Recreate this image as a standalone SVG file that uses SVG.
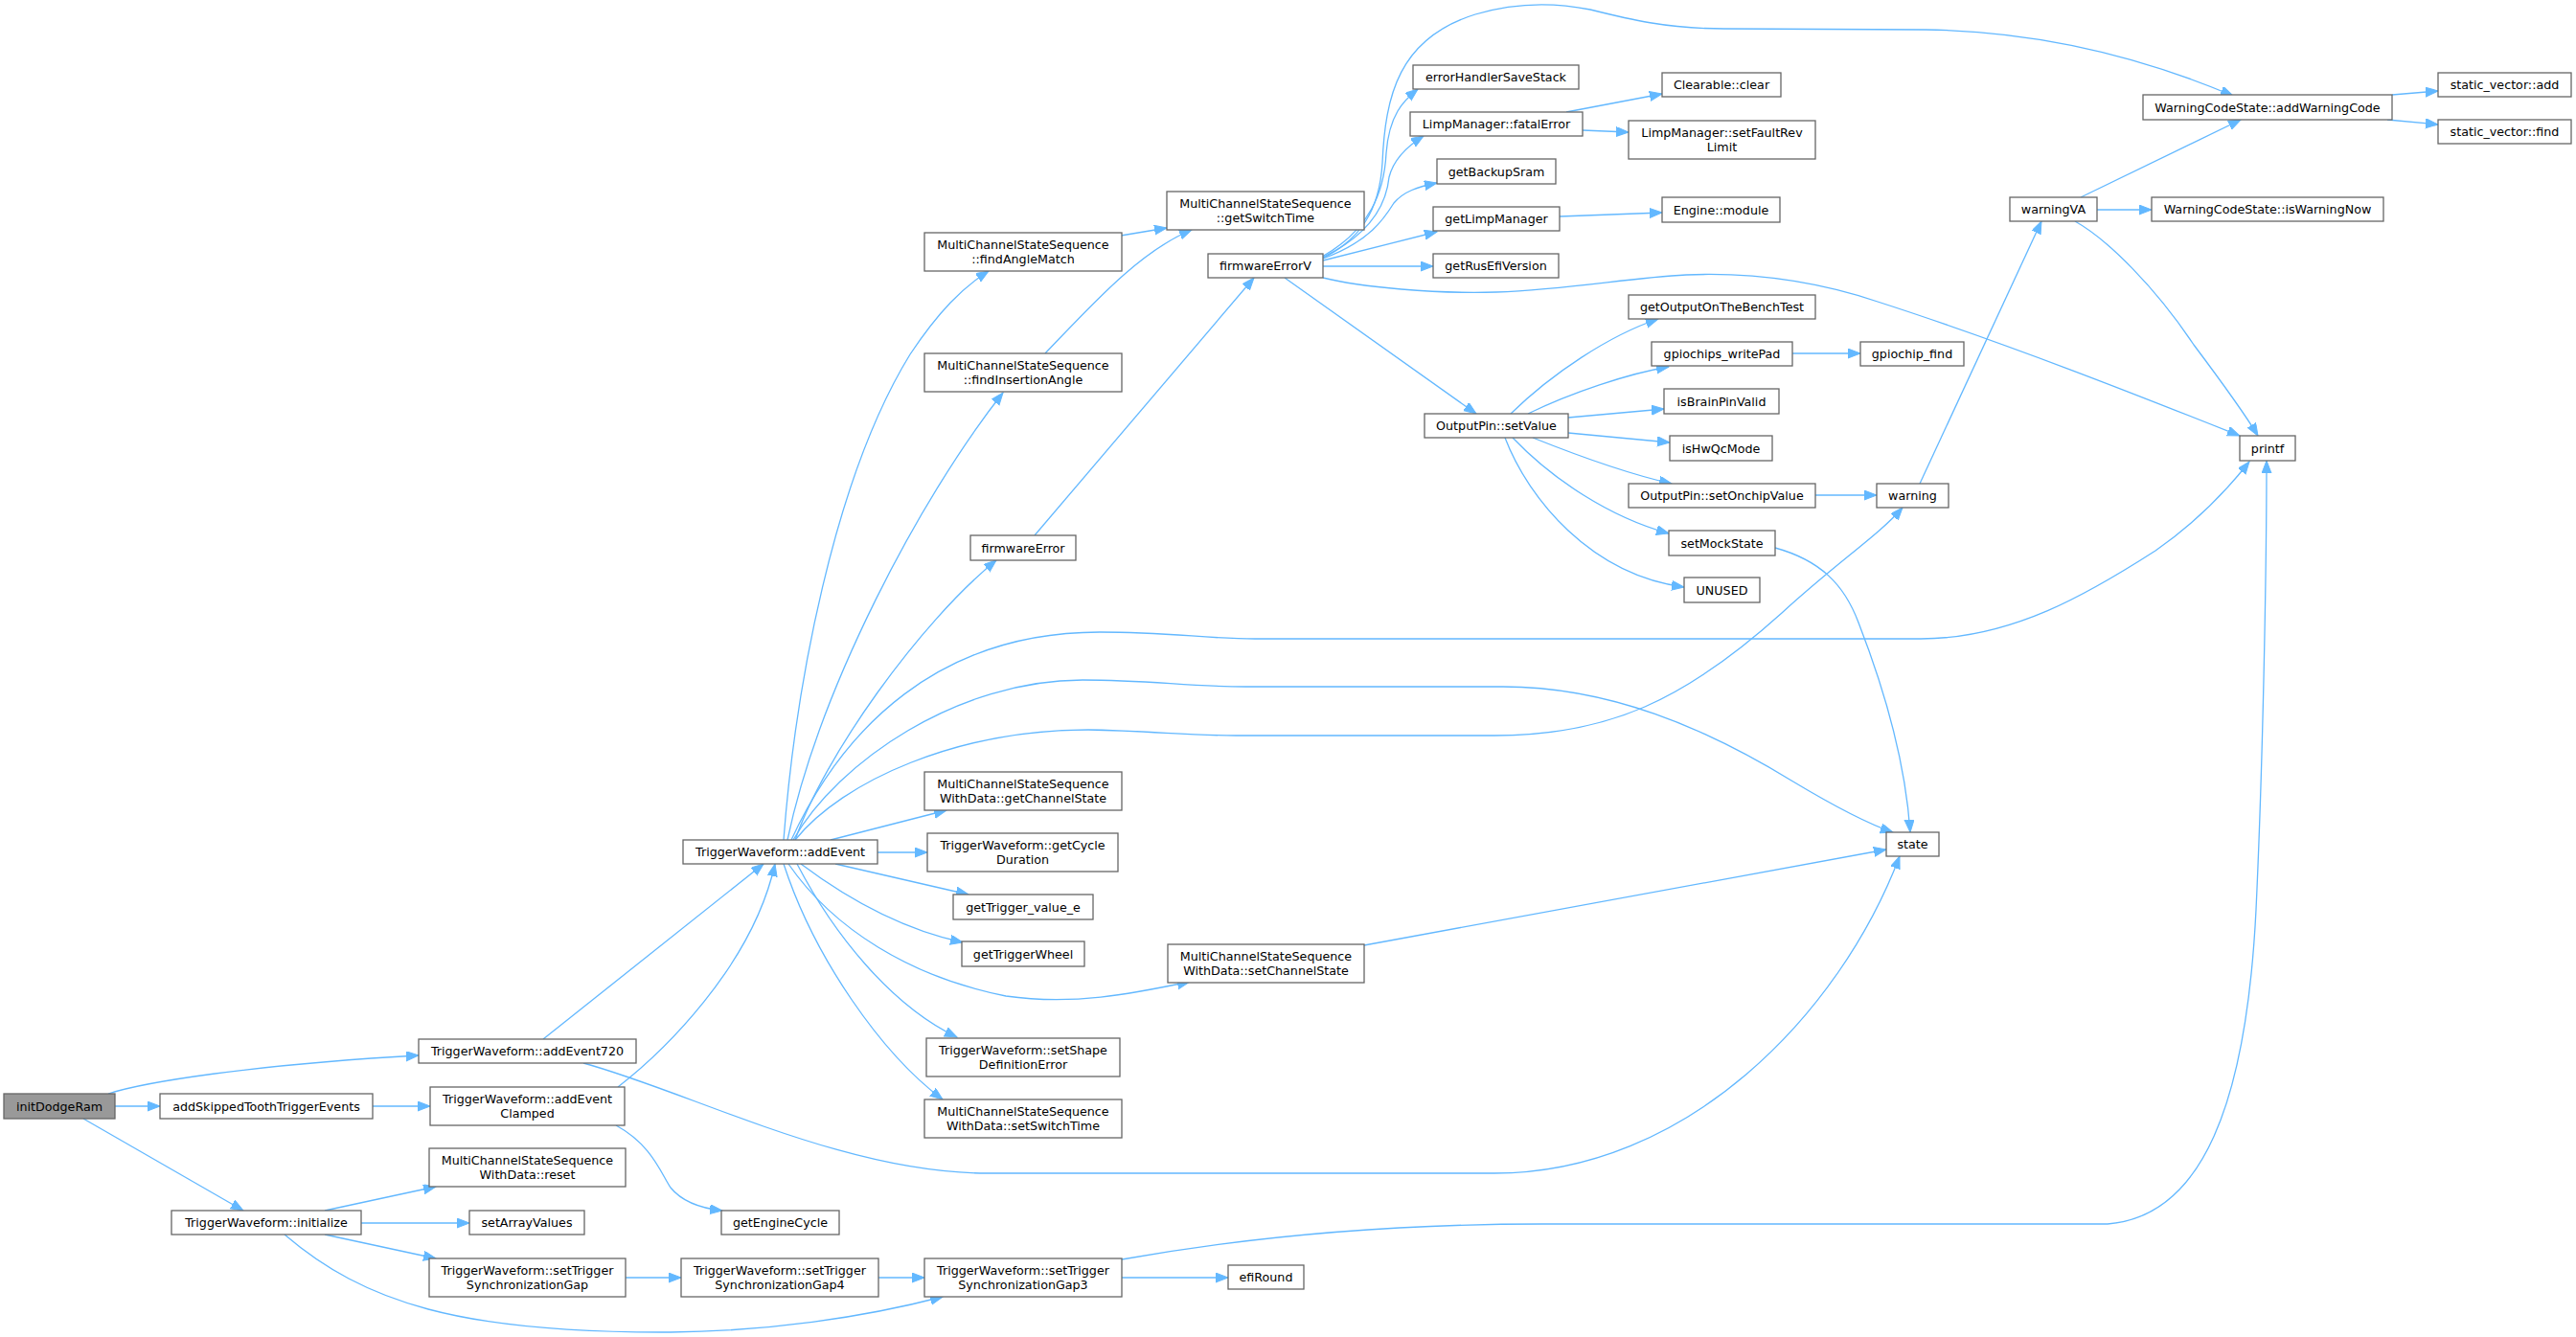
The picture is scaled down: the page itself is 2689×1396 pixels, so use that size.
<svg xmlns="http://www.w3.org/2000/svg" width="2689" height="1396" viewBox="0 0 2689 1396">
<style>
.n rect{fill:#ffffff;stroke:#666666;stroke-width:1.3}
.n.root rect{fill:#999999}
.n text{font-family:"DejaVu Sans","Noto Sans",sans-serif;font-size:12.7px;fill:#000000;text-anchor:middle}
.e path{fill:none;stroke:#63b8ff;stroke-width:1.3;marker-end:url(#ah)}
</style>
<defs>
<marker id="ah" markerUnits="userSpaceOnUse" markerWidth="14" markerHeight="11" refX="13" refY="5" orient="auto">
<path d="M0,0 L13,5 L0,10 z" fill="#63b8ff" stroke="#63b8ff" stroke-width="1"/>
</marker>
</defs>
<rect x="0" y="0" width="2689" height="1396" fill="#ffffff"/>
<g id="edges" class="e">
<path d="M113,1142 C150,1130 260,1112 437,1102"/>
<path d="M120,1155 L167,1155"/>
<path d="M87,1168 L254,1264"/>
<path d="M389,1155 L449,1155"/>
<path d="M567,1085 L797,902"/>
<path d="M645,1135 C690,1100 785,1010 809,902"/>
<path d="M609,1110 C720,1140 880,1225 1030,1225 L1560,1225 C1760,1225 1920,1060 1983,894"/>
<path d="M339,1264 L455,1239"/>
<path d="M377,1277 L490,1277"/>
<path d="M339,1289 L455,1314"/>
<path d="M297,1289 C380,1360 480,1392 700,1391 C800,1390 900,1376 984,1354"/>
<path d="M653,1334 L711,1334"/>
<path d="M643,1175 C680,1195 690,1225 700,1240 C713,1256 735,1262 754,1264"/>
<path d="M917,1334 L965,1334"/>
<path d="M1171,1334 L1282,1334"/>
<path d="M1171,1315 C1300,1292 1450,1278 1610,1278 L2200,1278 C2300,1270 2345,1150 2355,950 C2362,800 2366,600 2366,481"/>
<path d="M832,902 C870,975 930,1050 999,1083"/>
<path d="M818,902 C850,1000 920,1100 984,1148"/>
<path d="M867,877 L988,846"/>
<path d="M916,890 L968,890"/>
<path d="M872,902 L1011,934"/>
<path d="M836,902 C880,935 940,970 1005,984"/>
<path d="M823,902 C870,970 950,1020 1050,1040 C1120,1050 1180,1038 1242,1025"/>
<path d="M818,877 C830,720 870,500 950,370 C980,325 1005,300 1032,283"/>
<path d="M822,877 C855,720 960,520 1047,410"/>
<path d="M830,877 C860,790 960,650 1040,585"/>
<path d="M826,877 C880,760 980,660 1148,660 C1220,660 1260,667 1310,667 L2005,667 C2100,667 2180,620 2250,575 C2300,540 2330,505 2348,482"/>
<path d="M828,877 C875,795 1000,710 1130,710 C1200,710 1240,717 1300,717 L1569,717 C1680,717 1780,760 1870,815 C1920,845 1955,862 1976,869"/>
<path d="M830,877 C880,815 1000,762 1136,762 C1200,763 1240,768 1290,768 L1560,768 C1680,768 1760,730 1860,640 C1920,585 1960,560 1986,530"/>
<path d="M1080,559 L1309,290"/>
<path d="M1091,369 C1140,318 1190,262 1244,240"/>
<path d="M1170,246 L1218,238"/>
<path d="M1341,290 L1541,432"/>
<path d="M1381,290 C1420,300 1500,307 1562,305 C1640,302 1700,290 1760,287 C1830,284 1900,295 1960,315 C2100,360 2250,420 2338,455"/>
<path d="M1380,270 C1420,250 1440,220 1443,170 C1446,100 1460,40 1540,15 C1580,3 1620,2 1660,10 C1700,20 1740,30 1800,30 L2010,31 C2150,33 2260,70 2331,100"/>
<path d="M1380,268 C1430,240 1445,200 1447,160 C1450,120 1465,105 1480,93"/>
<path d="M1380,269 C1430,245 1447,215 1450,185 C1455,165 1470,152 1486,142"/>
<path d="M1381,270 C1430,252 1445,228 1455,212 C1465,200 1480,195 1500,191"/>
<path d="M1381,272 L1500,242"/>
<path d="M1381,278 L1496,278"/>
<path d="M1635,117 L1735,98"/>
<path d="M1652,136 L1700,138"/>
<path d="M1628,226 L1735,222"/>
<path d="M1577,432 C1620,390 1680,350 1731,333"/>
<path d="M1595,432 C1640,410 1700,390 1742,383"/>
<path d="M1637,436 L1737,427"/>
<path d="M1637,452 L1743,462"/>
<path d="M1600,457 C1650,477 1700,495 1745,505"/>
<path d="M1579,457 C1620,500 1680,540 1742,557"/>
<path d="M1571,457 C1595,520 1660,600 1758,613"/>
<path d="M1871,369 L1942,369"/>
<path d="M1895,517 L1959,517"/>
<path d="M1853,572 C1900,585 1925,610 1940,650 C1975,740 1990,810 1994,869"/>
<path d="M1424,987 L1969,887"/>
<path d="M2004,505 L2131,231"/>
<path d="M2172,206 L2339,125"/>
<path d="M2189,219 L2246,219"/>
<path d="M2166,231 C2200,250 2250,300 2290,360 C2320,400 2345,435 2357,455"/>
<path d="M2497,99 L2545,95"/>
<path d="M2492,125 L2545,130"/>
</g>
<g id="n1" class="n root"><rect x="4" y="1142" width="116" height="26"/><text x="62" y="1159.5">initDodgeRam</text></g>
<g id="n2" class="n"><rect x="167" y="1142" width="222" height="26"/><text x="278" y="1159.5">addSkippedToothTriggerEvents</text></g>
<g id="n3" class="n"><rect x="437" y="1085" width="227" height="25"/><text x="550.5" y="1102">TriggerWaveform::addEvent720</text></g>
<g id="n4" class="n"><rect x="449" y="1135" width="203" height="40"/><text x="550.5" y="1152">TriggerWaveform::addEvent</text><text x="550.5" y="1166.5">Clamped</text></g>
<g id="n5" class="n"><rect x="448" y="1199" width="205" height="40"/><text x="550.5" y="1216">MultiChannelStateSequence</text><text x="550.5" y="1230.5">WithData::reset</text></g>
<g id="n6" class="n"><rect x="179" y="1264" width="198" height="25"/><text x="278" y="1281">TriggerWaveform::initialize</text></g>
<g id="n7" class="n"><rect x="490" y="1264" width="120" height="25"/><text x="550" y="1281">setArrayValues</text></g>
<g id="n8" class="n"><rect x="448" y="1314" width="205" height="40"/><text x="550.5" y="1331">TriggerWaveform::setTrigger</text><text x="550.5" y="1345.5">SynchronizationGap</text></g>
<g id="n9" class="n"><rect x="711" y="1314" width="206" height="40"/><text x="814" y="1331">TriggerWaveform::setTrigger</text><text x="814" y="1345.5">SynchronizationGap4</text></g>
<g id="n10" class="n"><rect x="965" y="1314" width="206" height="40"/><text x="1068" y="1331">TriggerWaveform::setTrigger</text><text x="1068" y="1345.5">SynchronizationGap3</text></g>
<g id="n11" class="n"><rect x="1282" y="1321" width="79" height="25"/><text x="1321.5" y="1338">efiRound</text></g>
<g id="n12" class="n"><rect x="753" y="1264" width="123" height="25"/><text x="814.5" y="1281">getEngineCycle</text></g>
<g id="n13" class="n"><rect x="713" y="877" width="203" height="25"/><text x="814.5" y="894">TriggerWaveform::addEvent</text></g>
<g id="n14" class="n"><rect x="965" y="243" width="206" height="40"/><text x="1068" y="260">MultiChannelStateSequence</text><text x="1068" y="274.5">::findAngleMatch</text></g>
<g id="n15" class="n"><rect x="965" y="369" width="206" height="40"/><text x="1068" y="386">MultiChannelStateSequence</text><text x="1068" y="400.5">::findInsertionAngle</text></g>
<g id="n16" class="n"><rect x="1013" y="559" width="110" height="26"/><text x="1068" y="576.5">firmwareError</text></g>
<g id="n17" class="n"><rect x="1218" y="200" width="206" height="40"/><text x="1321" y="217">MultiChannelStateSequence</text><text x="1321" y="231.5">::getSwitchTime</text></g>
<g id="n18" class="n"><rect x="1261" y="265" width="120" height="25"/><text x="1321" y="282">firmwareErrorV</text></g>
<g id="n19" class="n"><rect x="965" y="806" width="206" height="40"/><text x="1068" y="823">MultiChannelStateSequence</text><text x="1068" y="837.5">WithData::getChannelState</text></g>
<g id="n20" class="n"><rect x="968" y="870" width="199" height="40"/><text x="1067.5" y="887">TriggerWaveform::getCycle</text><text x="1067.5" y="901.5">Duration</text></g>
<g id="n21" class="n"><rect x="995" y="934" width="146" height="26"/><text x="1068" y="951.5">getTrigger_value_e</text></g>
<g id="n22" class="n"><rect x="1004" y="983" width="128" height="26"/><text x="1068" y="1000.5">getTriggerWheel</text></g>
<g id="n23" class="n"><rect x="1219" y="986" width="205" height="40"/><text x="1321.5" y="1003">MultiChannelStateSequence</text><text x="1321.5" y="1017.5">WithData::setChannelState</text></g>
<g id="n24" class="n"><rect x="967" y="1084" width="202" height="40"/><text x="1068" y="1101">TriggerWaveform::setShape</text><text x="1068" y="1115.5">DefinitionError</text></g>
<g id="n25" class="n"><rect x="965" y="1148" width="206" height="40"/><text x="1068" y="1165">MultiChannelStateSequence</text><text x="1068" y="1179.5">WithData::setSwitchTime</text></g>
<g id="n26" class="n"><rect x="1969" y="869" width="55" height="25"/><text x="1996.5" y="886">state</text></g>
<g id="n27" class="n"><rect x="1475" y="68" width="173" height="25"/><text x="1561.5" y="85">errorHandlerSaveStack</text></g>
<g id="n28" class="n"><rect x="1472" y="117" width="180" height="25"/><text x="1562" y="134">LimpManager::fatalError</text></g>
<g id="n29" class="n"><rect x="1500" y="166" width="124" height="26"/><text x="1562" y="183.5">getBackupSram</text></g>
<g id="n30" class="n"><rect x="1496" y="216" width="132" height="25"/><text x="1562" y="233">getLimpManager</text></g>
<g id="n31" class="n"><rect x="1496" y="265" width="131" height="25"/><text x="1561.5" y="282">getRusEfiVersion</text></g>
<g id="n32" class="n"><rect x="1735" y="76" width="124" height="25"/><text x="1797" y="93">Clearable::clear</text></g>
<g id="n33" class="n"><rect x="1700" y="126" width="195" height="40"/><text x="1797.5" y="143">LimpManager::setFaultRev</text><text x="1797.5" y="157.5">Limit</text></g>
<g id="n34" class="n"><rect x="1735" y="206" width="123" height="26"/><text x="1796.5" y="223.5">Engine::module</text></g>
<g id="n35" class="n"><rect x="1487" y="432" width="150" height="25"/><text x="1562" y="449">OutputPin::setValue</text></g>
<g id="n36" class="n"><rect x="1700" y="308" width="195" height="25"/><text x="1797.5" y="325">getOutputOnTheBenchTest</text></g>
<g id="n37" class="n"><rect x="1724" y="357" width="147" height="25"/><text x="1797.5" y="374">gpiochips_writePad</text></g>
<g id="n38" class="n"><rect x="1942" y="357" width="108" height="25"/><text x="1996" y="374">gpiochip_find</text></g>
<g id="n39" class="n"><rect x="1737" y="406" width="120" height="26"/><text x="1797" y="423.5">isBrainPinValid</text></g>
<g id="n40" class="n"><rect x="1743" y="455" width="107" height="26"/><text x="1796.5" y="472.5">isHwQcMode</text></g>
<g id="n41" class="n"><rect x="1700" y="505" width="195" height="25"/><text x="1797.5" y="522">OutputPin::setOnchipValue</text></g>
<g id="n42" class="n"><rect x="1959" y="505" width="75" height="25"/><text x="1996.5" y="522">warning</text></g>
<g id="n43" class="n"><rect x="1742" y="554" width="111" height="26"/><text x="1797.5" y="571.5">setMockState</text></g>
<g id="n44" class="n"><rect x="1758" y="603" width="79" height="26"/><text x="1797.5" y="620.5">UNUSED</text></g>
<g id="n45" class="n"><rect x="2098" y="206" width="91" height="25"/><text x="2143.5" y="223">warningVA</text></g>
<g id="n46" class="n"><rect x="2237" y="99" width="260" height="26"/><text x="2367" y="116.5">WarningCodeState::addWarningCode</text></g>
<g id="n47" class="n"><rect x="2545" y="76" width="139" height="25"/><text x="2614.5" y="93">static_vector::add</text></g>
<g id="n48" class="n"><rect x="2545" y="125" width="139" height="25"/><text x="2614.5" y="142">static_vector::find</text></g>
<g id="n49" class="n"><rect x="2246" y="206" width="242" height="25"/><text x="2367" y="223">WarningCodeState::isWarningNow</text></g>
<g id="n50" class="n"><rect x="2338" y="455" width="58" height="26"/><text x="2367" y="472.5">printf</text></g>
</svg>
